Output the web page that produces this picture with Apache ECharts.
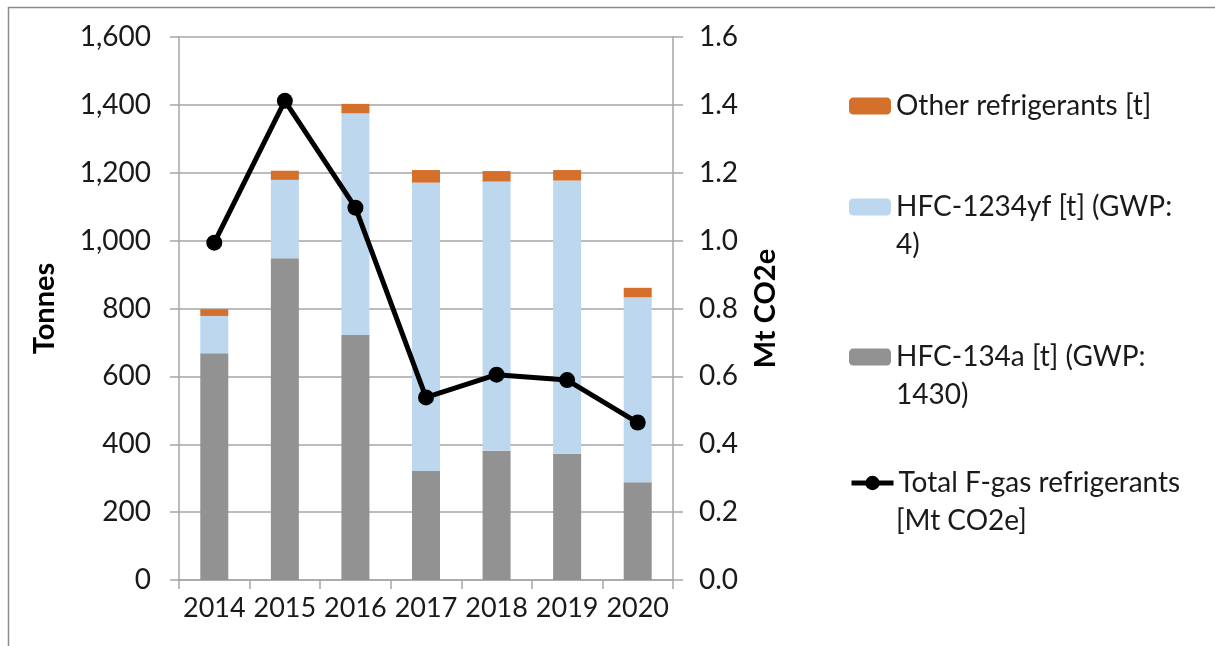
<!DOCTYPE html>
<html>
<head>
<meta charset="utf-8">
<script src="https://cdn.jsdelivr.net/npm/echarts@6/dist/echarts.min.js"></script>
<style>
html,body{margin:0;padding:0;background:#fff;}
#chartsBox{width:1215px;height:646px;}
</style>
</head>
<body>
<div id="chartsBox"></div>
<script>
var years=['2014','2015','2016','2017','2018','2019','2020'];
var hfc134a=[668,948,722,321,381,372,288];
var hfc1234yf=[110,231,653,850,793,805,545];
var otherRef=[20,27,28,37,31,31,28];
var totalCO2=[0.994,1.412,1.097,0.538,0.605,0.589,0.464];
var leftTicks={min:0,max:1600,interval:200};
var rightTicks={min:0,max:1.6,interval:0.2};

var fontName='Lato';
var txtColor='#1a1a1a';
var axisGray='#a6a6a6';
var lineH=37;
var legFont=28;

// one legend per item, so each can sit at its own height
function oneLegend(name,midY,label,extra){
	var lg={
		data:[name],
		orient:'vertical',
		left:849,
		top:midY-lineH/2,
		padding:0,
		itemWidth:42,
		itemHeight:17,
		itemGap:0,
		selectedMode:false,
		formatter:function(){return label;},
		textStyle:{fontFamily:fontName,fontSize:legFont,color:txtColor,lineHeight:lineH}
	};
	if(extra){for(var k in extra){lg[k]=extra[k];}}
	return lg;
}
//图例第二行
function secondLine(txt,midY){
	return {
		type:'text',
		x:896,
		y:midY,
		style:{text:txt,fill:txtColor,font:legFont+'px '+fontName,verticalAlign:'middle'}
	};
}

var chartsBox=echarts.init(document.getElementById('chartsBox'));
var option={
	animation:false,
	backgroundColor:'#fff',
	textStyle:{fontFamily:fontName},
	grid:{left:179,right:542,top:37,bottom:66},
	legend:[
		oneLegend('Other refrigerants [t]',106,'Other refrigerants [t]'),
		oneLegend('HFC-1234yf [t] (GWP: 4)',207,'HFC-1234yf [t] (GWP:'),
		oneLegend('HFC-134a [t] (GWP: 1430)',357,'HFC-134a [t] (GWP:'),
		oneLegend('Total F-gas refrigerants [Mt CO2e]',483,'Total F-gas refrigerants',{itemHeight:18,lineStyle:{width:5}})
	],
	graphic:[
		{type:'line',shape:{x1:8.5,y1:7,x2:8.5,y2:646},style:{stroke:'#8c8c8c',lineWidth:1.5}},
		{type:'line',shape:{x1:8,y1:7.5,x2:1215,y2:7.5},style:{stroke:'#8c8c8c',lineWidth:1.5}},
		secondLine('4)',245),
		secondLine('1430)',395),
		secondLine('[Mt CO2e]',521)
	],
	xAxis:{
		type:'category',
		data:years,
		axisLine:{lineStyle:{color:axisGray,width:1.5}},
		axisTick:{show:true,alignWithLabel:false,length:9,lineStyle:{color:axisGray,width:1.5}},
		axisLabel:{interval:0,color:txtColor,fontSize:27,fontFamily:fontName,margin:15}
	},
	yAxis:[{
		type:'value',
		min:leftTicks.min,
		max:leftTicks.max,
		interval:leftTicks.interval,
		name:'Tonnes',
		nameLocation:'middle',
		nameGap:120,
		nameRotate:90,
		nameTextStyle:{color:'#000',fontSize:29,fontWeight:'bold',fontFamily:fontName},
		axisLine:{show:true,lineStyle:{color:axisGray,width:1.5}},
		axisTick:{show:true,length:9,lineStyle:{color:axisGray,width:1.5}},
		axisLabel:{color:txtColor,fontSize:28,fontFamily:fontName,margin:28,
			formatter:function(v){return v.toLocaleString('en-US');}},
		splitLine:{show:true,lineStyle:{color:axisGray,width:1.5}}
	},{
		type:'value',
		min:rightTicks.min,
		max:rightTicks.max,
		interval:rightTicks.interval,
		name:'Mt CO2e',
		nameLocation:'middle',
		nameGap:78,
		nameRotate:90,
		nameTextStyle:{color:'#000',fontSize:29,fontWeight:'bold',fontFamily:fontName},
		axisLine:{show:true,lineStyle:{color:axisGray,width:1.5}},
		axisTick:{show:true,length:10,lineStyle:{color:axisGray,width:1.5}},
		axisLabel:{color:txtColor,fontSize:28,fontFamily:fontName,margin:26,
			formatter:function(v){return v.toFixed(1);}},
		splitLine:{show:false}
	}],
	series:[{
		name:'HFC-134a [t] (GWP: 1430)',
		type:'bar',
		stack:'t',
		barWidth:28,
		itemStyle:{color:'#929292'},
		data:hfc134a
	},{
		name:'HFC-1234yf [t] (GWP: 4)',
		type:'bar',
		stack:'t',
		barWidth:28,
		itemStyle:{color:'#bdd7ee'},
		data:hfc1234yf
	},{
		name:'Other refrigerants [t]',
		type:'bar',
		stack:'t',
		barWidth:28,
		itemStyle:{color:'#d4702c'},
		data:otherRef
	},{
		name:'Total F-gas refrigerants [Mt CO2e]',
		type:'line',
		yAxisIndex:1,
		symbol:'circle',
		symbolSize:16,
		z:5,
		lineStyle:{color:'#000',width:5},
		itemStyle:{color:'#000'},
		data:totalCO2
	}]
};
chartsBox.setOption(option);
</script>
</body>
</html>
